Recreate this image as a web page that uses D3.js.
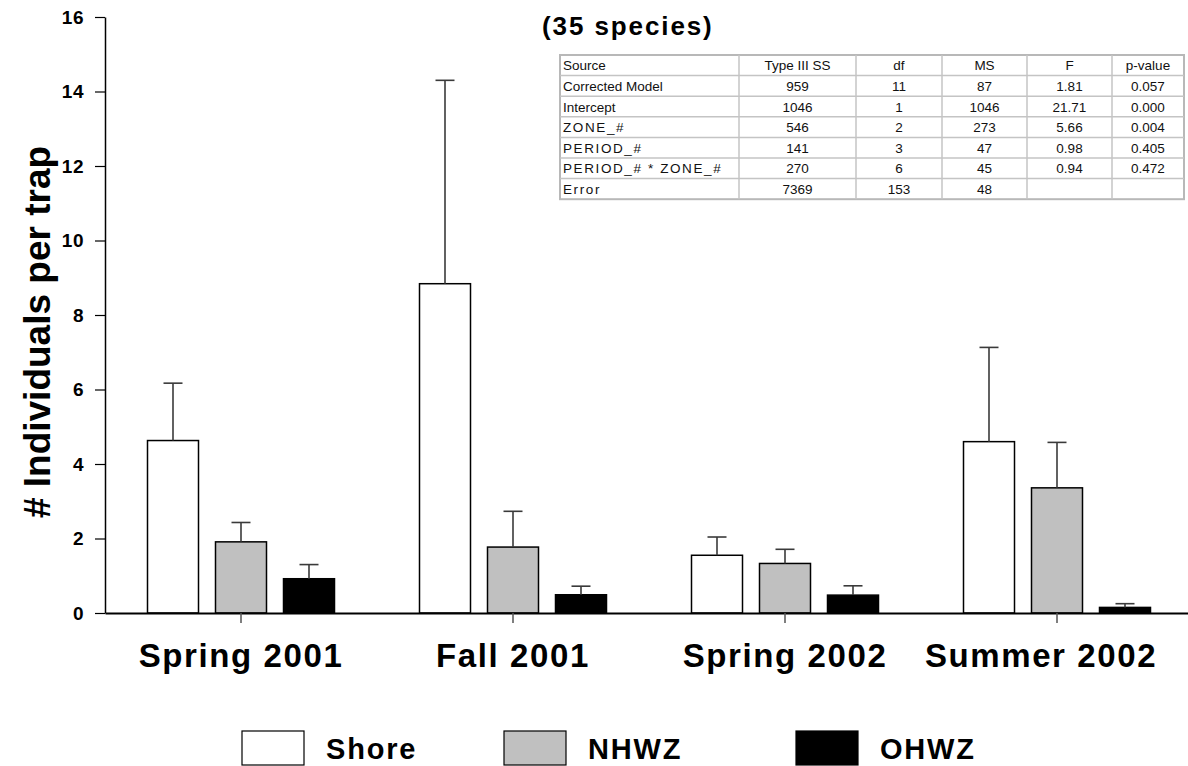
<!DOCTYPE html>
<html>
<head>
<meta charset="utf-8">
<script src="https://cdn.jsdelivr.net/npm/d3@7"></script>
<style>
  html, body { margin: 0; padding: 0; background: #fff; }
  svg { display: block; font-family: "Liberation Sans", Arial, sans-serif; }
</style>
</head>
<body>
<svg id="chart" width="1188" height="766"></svg>
<script>
// Sampling periods and habitat zones
const periods = ["Spring 2001", "Fall 2001", "Spring 2002", "Summer 2002"];
const zones = ["Shore", "NHWZ", "OHWZ"];
const zoneFill = ["#ffffff", "#c0c0c0", "#000000"];

// Mean individuals per trap, one array per zone (in period order)
const shoreMean = [4.63, 8.84, 1.55, 4.60];
const nhwzMean  = [1.91, 1.77, 1.33, 3.36];
const ohwzMean  = [0.92, 0.49, 0.48, 0.15];

// Upper end of the error bar (mean + SE)
const shoreUpper = [6.17, 14.30, 2.04, 7.13];
const nhwzUpper  = [2.43, 2.73, 1.71, 4.58];
const ohwzUpper  = [1.30, 0.72, 0.73, 0.25];

const yTicks = [0, 2, 4, 6, 8, 10, 12, 14, 16];

// ANOVA summary table
const tableHeader = ["Source", "Type III SS", "df", "MS", "F", "p-value"];
const tableSource = ["Corrected Model", "Intercept", "ZONE_#", "PERIOD_#", "PERIOD_# * ZONE_#", "Error"];
const tableSS     = ["959", "1046", "546", "141", "270", "7369"];
const tableDf     = ["11", "1", "2", "3", "6", "153"];
const tableMS     = ["87", "1046", "273", "47", "45", "48"];
const tableF      = ["1.81", "21.71", "5.66", "0.98", "0.94", ""];
const tableP      = ["0.057", "0.000", "0.004", "0.405", "0.472", ""];

const means = [shoreMean, nhwzMean, ohwzMean];
const uppers = [shoreUpper, nhwzUpper, ohwzUpper];

const svg = d3.select("#chart");

const x = d3.scaleBand().domain(periods).range([105, 1193]).padding(0);
const xZone = d3.scaleBand().domain(zones).range([-102, 102]).paddingInner(0.25).paddingOuter(0.125);
const y = d3.scaleLinear().domain([0, 16]).range([613, 17]);

const bars = [];
zones.forEach((z, zi) => {
  periods.forEach((p, pi) => {
    bars.push({ period: p, zone: z, zi, mean: means[zi][pi], upper: uppers[zi][pi] });
  });
});

// Y axis
const yAxis = svg.append("g")
  .attr("transform", "translate(105,0)")
  .call(d3.axisLeft(y).tickValues(yTicks).tickSize(10).tickSizeOuter(0).tickPadding(11));
yAxis.select(".domain").attr("stroke", "#000").attr("stroke-width", 1.5);
yAxis.selectAll(".tick line").attr("stroke", "#000").attr("stroke-width", 1.2);
yAxis.selectAll(".tick text")
  .attr("font-family", "Liberation Sans, Arial, sans-serif")
  .attr("font-size", 19).attr("font-weight", "bold").attr("fill", "#000")
  .attr("letter-spacing", 0.5);

// Y axis title
svg.append("text")
  .attr("transform", "translate(50,332) rotate(-90)")
  .attr("text-anchor", "middle")
  .attr("font-size", 37).attr("font-weight", "bold")
  .text("# Individuals per trap");

// Bars
const barG = svg.append("g");
barG.selectAll("rect").data(bars).join("rect")
  .attr("x", d => x(d.period) + x.bandwidth() / 2 + xZone(d.zone))
  .attr("y", d => y(d.mean))
  .attr("width", xZone.bandwidth())
  .attr("height", d => y(0) - y(d.mean))
  .attr("fill", d => zoneFill[d.zi])
  .attr("stroke", "#000").attr("stroke-width", 1.5);

// Error bars (upper side only)
const errG = svg.append("g").attr("stroke", "#3a3a3a").attr("stroke-width", 1.6);
bars.forEach(d => {
  const cx = x(d.period) + x.bandwidth() / 2 + xZone(d.zone) + xZone.bandwidth() / 2;
  errG.append("line").attr("x1", cx).attr("x2", cx).attr("y1", y(d.mean)).attr("y2", y(d.upper));
  errG.append("line").attr("x1", cx - 9.5).attr("x2", cx + 9.5).attr("y1", y(d.upper)).attr("y2", y(d.upper));
});

// X axis
const xAxis = svg.append("g")
  .attr("transform", `translate(0,${y(0)})`)
  .call(d3.axisBottom(x).tickSize(10).tickSizeOuter(0).tickPadding(21));
xAxis.select(".domain").attr("stroke", "#000").attr("stroke-width", 2);
xAxis.selectAll(".tick line").attr("stroke", "#555").attr("stroke-width", 1.5);
xAxis.selectAll(".tick text")
  .attr("font-family", "Liberation Sans, Arial, sans-serif")
  .attr("font-size", 33).attr("font-weight", "bold").attr("fill", "#000")
  .attr("letter-spacing", 1.6)
  .attr("dx", (d, i) => i === periods.length - 1 ? -16 : 0);

// Title of the table
svg.append("text")
  .attr("x", 542).attr("y", 35)
  .attr("font-size", 26).attr("font-weight", "bold")
  .attr("letter-spacing", 1.9)
  .text("(35 species)");

// ANOVA table
const colEdges = [560, 739, 856, 942, 1027, 1112, 1184];
const tableTop = 55, rowH = 20.6;
const columns = [tableSource, tableSS, tableDf, tableMS, tableF, tableP];
const rows = [tableHeader].concat(tableSource.map((s, i) => columns.map(c => c[i])));
const tg = svg.append("g");
tg.append("rect")
  .attr("x", colEdges[0]).attr("y", tableTop)
  .attr("width", colEdges[6] - colEdges[0]).attr("height", rowH * rows.length)
  .attr("fill", "#fff").attr("stroke", "#b8b8b8").attr("stroke-width", 2);
for (let r = 1; r < rows.length; r++) {
  tg.append("line").attr("x1", colEdges[0]).attr("x2", colEdges[6])
    .attr("y1", tableTop + r * rowH).attr("y2", tableTop + r * rowH)
    .attr("stroke", "#c4c4c4").attr("stroke-width", 1.5);
}
for (let c = 1; c < colEdges.length - 1; c++) {
  tg.append("line").attr("x1", colEdges[c]).attr("x2", colEdges[c])
    .attr("y1", tableTop).attr("y2", tableTop + rowH * rows.length)
    .attr("stroke", "#c4c4c4").attr("stroke-width", 1.5);
}
rows.forEach((row, r) => {
  row.forEach((cell, c) => {
    const left = c === 0;
    tg.append("text")
      .attr("x", left ? colEdges[0] + 3 : (colEdges[c] + colEdges[c + 1]) / 2)
      .attr("y", tableTop + r * rowH + rowH / 2 + 5)
      .attr("text-anchor", left ? "start" : "middle")
      .attr("font-size", 13.5).attr("fill", "#111")
      .attr("letter-spacing", cell.startsWith("PERIOD") || cell.startsWith("ZONE") || cell === "Error" ? 1.6 : 0)
      .text(cell);
  });
});

// Legend
const legendX = [242, 504, 796];
const lg = svg.append("g");
zones.forEach((z, i) => {
  lg.append("rect")
    .attr("x", legendX[i]).attr("y", 731)
    .attr("width", 62).attr("height", 34)
    .attr("fill", zoneFill[i]).attr("stroke", "#000").attr("stroke-width", 1.2);
  lg.append("text")
    .attr("x", legendX[i] + 84).attr("y", 759)
    .attr("font-size", 29).attr("font-weight", "bold")
    .attr("letter-spacing", 1.8)
    .text(z);
});
</script>
</body>
</html>
